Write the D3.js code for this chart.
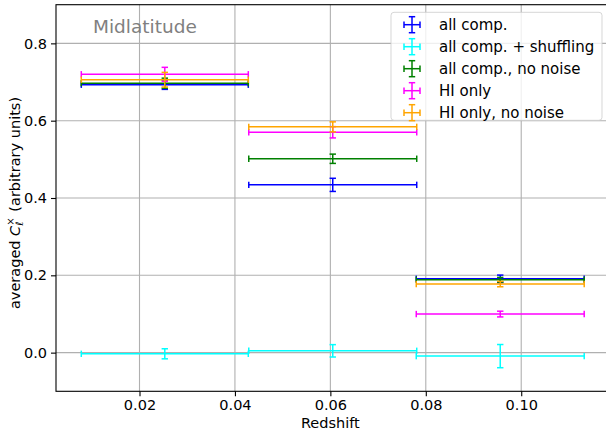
<!DOCTYPE html>
<html>
<head>
<meta charset="utf-8">
<script src="https://cdn.jsdelivr.net/npm/d3@7"></script>
<style>
  html, body { margin: 0; padding: 0; background: #ffffff; }
  svg { display: block; font-family: "DejaVu Sans", sans-serif; }
  text { white-space: pre; }
</style>
</head>
<body>
<svg id="chart" width="606" height="432"></svg>
<script>
// Redshift bins (centre and half-width)
const binCenters = [0.0253, 0.0605, 0.0956];
const binHalfWidths = [0.0175, 0.0176, 0.0176];

// Averaged cross-spectrum per bin, with 1-sigma errors
const allComp = [0.693, 0.434, 0.191];
const allCompErr = [0.012, 0.017, 0.0096];
const allCompShuffled = [-0.003, 0.0047, -0.009];
const allCompShuffledErr = [0.013, 0.016, 0.030];
const allCompNoNoise = [0.697, 0.5015, 0.1886];
const allCompNoNoiseErr = [0.013, 0.012, 0.006];
const hiOnly = [0.720, 0.570, 0.0998];
const hiOnlyErr = [0.018, 0.0146, 0.0074];
const hiOnlyNoNoise = [0.706, 0.584, 0.1774];
const hiOnlyNoNoiseErr = [0.019, 0.013, 0.007];

const seriesLabels = ["all comp.", "all comp. + shuffling", "all comp., no noise", "HI only", "HI only, no noise"];
const seriesColors = ["#0000ff", "#00ffff", "#008000", "#ff00ff", "#ffa500"];

const xTicks = [0.02, 0.04, 0.06, 0.08, 0.10];
const yTicks = [0.0, 0.2, 0.4, 0.6, 0.8];

const series = [
  { label: seriesLabels[0], color: seriesColors[0], y: allComp, err: allCompErr },
  { label: seriesLabels[1], color: seriesColors[1], y: allCompShuffled, err: allCompShuffledErr },
  { label: seriesLabels[2], color: seriesColors[2], y: allCompNoNoise, err: allCompNoNoiseErr },
  { label: seriesLabels[3], color: seriesColors[3], y: hiOnly, err: hiOnlyErr },
  { label: seriesLabels[4], color: seriesColors[4], y: hiOnlyNoNoise, err: hiOnlyNoNoiseErr }
];

const svg = d3.select("#chart");
const plot = { left: 56, right: 609.5, top: 4.7, bottom: 391.3 };

const x = d3.scaleLinear().domain([0.0025, 0.1185]).range([plot.left, plot.right]);
const y = d3.scaleLinear().domain([-0.1, 0.9]).range([plot.bottom, plot.top]);

// grid
const grid = svg.append("g").attr("stroke", "#b0b0b0").attr("stroke-width", 1.1);
grid.selectAll("line.gx").data(xTicks).join("line")
  .attr("x1", d => x(d)).attr("x2", d => x(d))
  .attr("y1", plot.top).attr("y2", plot.bottom);
grid.selectAll("line.gy").data(yTicks).join("line")
  .attr("x1", plot.left).attr("x2", plot.right)
  .attr("y1", d => y(d)).attr("y2", d => y(d));

// axes
const fmtX = d3.format(".2f");
const fmtY = d3.format(".1f");
const xAxis = svg.append("g").attr("transform", `translate(0,${plot.bottom})`)
  .call(d3.axisBottom(x).tickValues(xTicks).tickFormat(fmtX).tickSize(5).tickPadding(3));
const yAxis = svg.append("g").attr("transform", `translate(${plot.left},0)`)
  .call(d3.axisLeft(y).tickValues(yTicks).tickFormat(fmtY).tickSize(5).tickPadding(4));
[xAxis, yAxis].forEach(a => {
  a.select(".domain").remove();
  a.selectAll(".tick line").attr("stroke", "#000").attr("stroke-width", 1.1);
  a.selectAll(".tick text").attr("fill", "#000").attr("font-size", 14.5)
    .attr("font-family", "DejaVu Sans");
});

// error bars
const capHalf = 3.2;
const marks = svg.append("g").attr("fill", "none").attr("stroke-width", 1.5);
series.forEach(s => {
  const g = marks.append("g").attr("stroke", s.color);
  binCenters.forEach((c, i) => {
    const x0 = x(c - binHalfWidths[i]), x1 = x(c + binHalfWidths[i]);
    const yc = y(s.y[i]), y0 = y(s.y[i] - s.err[i]), y1 = y(s.y[i] + s.err[i]);
    const xc = x(c);
    // horizontal extent of the bin
    g.append("line").attr("x1", x0).attr("x2", x1).attr("y1", yc).attr("y2", yc);
    g.append("line").attr("x1", x0).attr("x2", x0).attr("y1", yc - capHalf).attr("y2", yc + capHalf);
    g.append("line").attr("x1", x1).attr("x2", x1).attr("y1", yc - capHalf).attr("y2", yc + capHalf);
    // vertical error
    g.append("line").attr("x1", xc).attr("x2", xc).attr("y1", y0).attr("y2", y1);
    g.append("line").attr("x1", xc - capHalf).attr("x2", xc + capHalf).attr("y1", y0).attr("y2", y0);
    g.append("line").attr("x1", xc - capHalf).attr("x2", xc + capHalf).attr("y1", y1).attr("y2", y1);
  });
});

// frame
svg.append("rect")
  .attr("x", plot.left).attr("y", plot.top)
  .attr("width", plot.right - plot.left).attr("height", plot.bottom - plot.top)
  .attr("fill", "none").attr("stroke", "#000").attr("stroke-width", 1.1);

// region title
svg.append("text").attr("x", 93).attr("y", 33.3)
  .attr("font-size", 18.5).attr("fill", "#808080").text("Midlatitude");

// x label
svg.append("text").attr("x", x(0.06)).attr("y", 427.5)
  .attr("text-anchor", "middle").attr("font-size", 14.5).text("Redshift");

// y label with math notation
const yl = svg.append("g").attr("transform", "translate(19.5,203) rotate(-90)");
const fs = 14.5;
const parts = [];
let cursor = 0;
function piece(txt, opts) {
  const t = yl.append("text").attr("font-size", opts.size || fs).text(txt)
    .attr("y", opts.dy || 0).attr("xml:space", "preserve");
  if (opts.italic) t.attr("font-style", "italic");
  t.attr("x", cursor);
  const w = t.node().getComputedTextLength();
  parts.push(t);
  return w;
}
cursor += piece("averaged\u00a0", {});
cursor += piece("C", { italic: true });
const wSup = piece("\u00d7", { size: fs * 0.7, dy: -6 });
const wSub = piece("\u2113", { size: fs * 0.7, dy: 3.5, italic: true });
cursor += Math.max(wSup, wSub) + 1;
cursor += piece("\u00a0(arbitrary units)", {});
const total = cursor;
parts.forEach(t => t.attr("x", +t.attr("x") - total / 2));

// legend
const lg = svg.append("g");
lg.append("rect").attr("x", 391).attr("y", 12.3).attr("width", 211).attr("height", 108)
  .attr("rx", 3).attr("fill", "#ffffff").attr("fill-opacity", 0.8)
  .attr("stroke", "#cccccc").attr("stroke-opacity", 0.8);
series.forEach((s, i) => {
  const cy = 24.7 + i * 22;
  const cx = 412, h = 8;
  const g = lg.append("g").attr("stroke", s.color).attr("stroke-width", 1.5);
  g.append("line").attr("x1", cx - h).attr("x2", cx + h).attr("y1", cy).attr("y2", cy);
  g.append("line").attr("x1", cx).attr("x2", cx).attr("y1", cy - h).attr("y2", cy + h);
  g.append("line").attr("x1", cx - h).attr("x2", cx - h).attr("y1", cy - capHalf).attr("y2", cy + capHalf);
  g.append("line").attr("x1", cx + h).attr("x2", cx + h).attr("y1", cy - capHalf).attr("y2", cy + capHalf);
  g.append("line").attr("x1", cx - capHalf).attr("x2", cx + capHalf).attr("y1", cy - h).attr("y2", cy - h);
  g.append("line").attr("x1", cx - capHalf).attr("x2", cx + capHalf).attr("y1", cy + h).attr("y2", cy + h);
  lg.append("text").attr("x", 439).attr("y", cy + 5.3).attr("font-size", 15).text(s.label);
});
</script>
</body>
</html>
